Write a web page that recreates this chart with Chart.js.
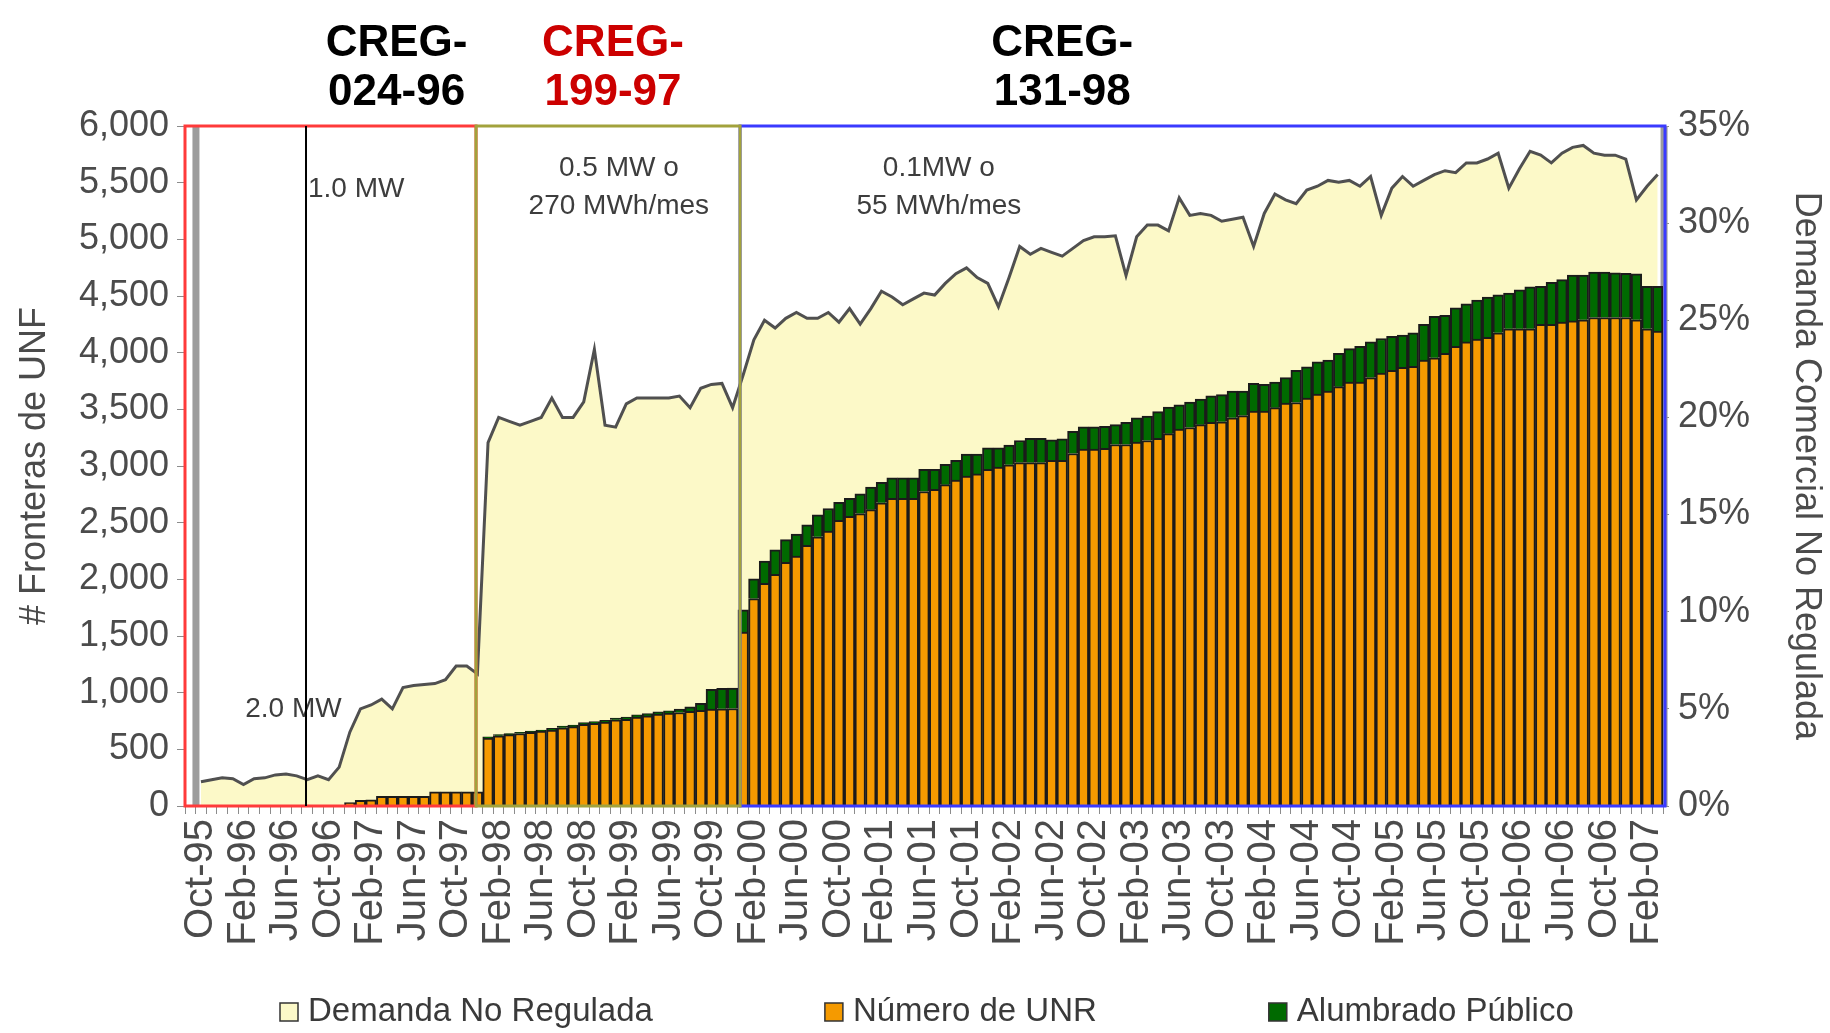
<!DOCTYPE html>
<html>
<head>
<meta charset="utf-8">
<script src="https://cdn.jsdelivr.net/npm/chart.js@4.4.1/dist/chart.umd.min.js"></script>
<style>
  html, body { margin: 0; padding: 0; background: #fff; }
  #wrap { width: 1830px; height: 1033px; }
</style>
</head>
<body>
<div id="wrap"><canvas id="unfChart" width="1830" height="1033"></canvas></div>
<script>
// meses (Sep-95 queda vacio, los datos empiezan en Oct-95)
var meses = [
  'Sep-95','Oct-95','Nov-95','Dec-95',
  'Jan-96','Feb-96','Mar-96','Apr-96','May-96','Jun-96','Jul-96','Aug-96','Sep-96','Oct-96','Nov-96','Dec-96',
  'Jan-97','Feb-97','Mar-97','Apr-97','May-97','Jun-97','Jul-97','Aug-97','Sep-97','Oct-97','Nov-97','Dec-97',
  'Jan-98','Feb-98','Mar-98','Apr-98','May-98','Jun-98','Jul-98','Aug-98','Sep-98','Oct-98','Nov-98','Dec-98',
  'Jan-99','Feb-99','Mar-99','Apr-99','May-99','Jun-99','Jul-99','Aug-99','Sep-99','Oct-99','Nov-99','Dec-99',
  'Jan-00','Feb-00','Mar-00','Apr-00','May-00','Jun-00','Jul-00','Aug-00','Sep-00','Oct-00','Nov-00','Dec-00',
  'Jan-01','Feb-01','Mar-01','Apr-01','May-01','Jun-01','Jul-01','Aug-01','Sep-01','Oct-01','Nov-01','Dec-01',
  'Jan-02','Feb-02','Mar-02','Apr-02','May-02','Jun-02','Jul-02','Aug-02','Sep-02','Oct-02','Nov-02','Dec-02',
  'Jan-03','Feb-03','Mar-03','Apr-03','May-03','Jun-03','Jul-03','Aug-03','Sep-03','Oct-03','Nov-03','Dec-03',
  'Jan-04','Feb-04','Mar-04','Apr-04','May-04','Jun-04','Jul-04','Aug-04','Sep-04','Oct-04','Nov-04','Dec-04',
  'Jan-05','Feb-05','Mar-05','Apr-05','May-05','Jun-05','Jul-05','Aug-05','Sep-05','Oct-05','Nov-05','Dec-05',
  'Jan-06','Feb-06','Mar-06','Apr-06','May-06','Jun-06','Jul-06','Aug-06','Sep-06','Oct-06','Nov-06','Dec-06',
  'Jan-07','Feb-07','Mar-07'
];

// Demanda comercial no regulada (% , eje derecho)
var demanda = [
  null, 1.25, 1.35, 1.45,
  1.4, 1.1, 1.4, 1.45, 1.6, 1.65, 1.55, 1.35, 1.55, 1.35, 2.0, 3.8,
  5.0, 5.2, 5.5, 5.0, 6.1, 6.2, 6.25, 6.3, 6.5, 7.2, 7.2, 6.8,
  18.7, 20.0, 19.8, 19.6, 19.8, 20.0, 21.0, 20.0, 20.0, 20.8, 23.5, 19.6,
  19.5, 20.7, 21.0, 21.0, 21.0, 21.0, 21.1, 20.5, 21.5, 21.7, 21.75, 20.5,
  22.2, 24.0, 25.0, 24.6, 25.1, 25.4, 25.1, 25.1, 25.4, 24.9, 25.6, 24.8,
  25.6, 26.5, 26.2, 25.8, 26.1, 26.4, 26.3, 26.9, 27.4, 27.7, 27.2, 26.9,
  25.7, 27.2, 28.8, 28.4, 28.7, 28.5, 28.3, 28.7, 29.1, 29.3, 29.3, 29.35,
  27.3, 29.3, 29.9, 29.9, 29.6, 31.3, 30.4, 30.5, 30.4, 30.1, 30.2, 30.3,
  28.8, 30.5, 31.5, 31.2, 31.0, 31.7, 31.9, 32.2, 32.1, 32.2, 31.9, 32.4,
  30.4, 31.8, 32.4, 31.9, 32.2, 32.5, 32.7, 32.6, 33.1, 33.1, 33.3, 33.6,
  31.8, 32.8, 33.7, 33.5, 33.1, 33.6, 33.9, 34.0, 33.6, 33.5, 33.5, 33.3,
  31.2, 31.9, 32.5
];

// Numero de UNR (eje izquierdo)
var unr = [
  null, null, null, null,
  null, null, null, null, null, null, null, null, null, null, null, 30,
  50, 55, 85, 85, 85, 85, 85, 125, 125, 125, 125, 125,
  600, 620, 630, 640, 650, 660, 670, 690, 700, 720, 730, 740,
  760, 765, 785, 795, 810, 820, 825, 835, 845, 855, 858, 860,
  1535, 1830, 1965, 2045, 2150, 2205, 2300, 2375, 2425, 2520, 2555, 2580,
  2615, 2675, 2715, 2715, 2715, 2775, 2795, 2835, 2875, 2910, 2930, 2970,
  2990, 3010, 3030, 3030, 3030, 3050, 3050, 3110, 3150, 3150, 3155, 3190,
  3190, 3210, 3225, 3245, 3285, 3325, 3340, 3365, 3385, 3390, 3425, 3445,
  3485, 3485, 3515, 3555, 3560, 3600, 3635, 3660, 3700, 3740, 3740, 3780,
  3820, 3845, 3870, 3880, 3935, 3955, 3995, 4055, 4095, 4120, 4135, 4175,
  4210, 4210, 4210, 4250, 4250, 4270, 4280, 4290, 4310, 4310, 4310, 4310,
  4290, 4210, 4190
];

// Alumbrado publico (apilado sobre UNR)
var alumbrado = [
  null, null, null, null,
  null, null, null, null, null, null, null, null, null, null, null, null,
  null, null, null, null, null, null, null, null, null, null, null, null,
  10, 10, 10, 10, 10, 10, 15, 15, 15, 15, 15, 15,
  15, 20, 20, 20, 20, 20, 30, 40, 60, 175, 180, 180,
  195, 175, 195, 215, 200, 195, 180, 195, 200, 160, 160, 175,
  200, 180, 180, 180, 180, 195, 175, 180, 175, 195, 175, 190,
  170, 175, 195, 215, 215, 180, 190, 195, 195, 195, 195, 175,
  195, 215, 215, 235, 235, 215, 225, 225, 235, 240, 235, 215,
  245, 235, 225, 225, 285, 275, 285, 275, 295, 295, 315, 315,
  305, 300, 285, 295, 315, 365, 335, 340, 335, 345, 355, 335,
  315, 345, 370, 335, 370, 375, 405, 395, 400, 400, 395, 390,
  405, 375, 395
];

// resoluciones CREG sobre el grafico (posicion en indice de mes)
var resoluciones = [
  { linea1: 'CREG-', linea2: '024-96', color: '#000000', mes: 19.4 },
  { linea1: 'CREG-', linea2: '199-97', color: '#cc0000', mes: 39.75 },
  { linea1: 'CREG-', linea2: '131-98', color: '#000000', mes: 82.0 }
];

var fuente = '"Liberation Sans", Arial, sans-serif';
var gris = '#4b4b4b';
Chart.defaults.font.family = fuente;

var marcos = {
  id: 'marcos',
  afterDatasetDraw: function(chart, args) {
    if (args.meta.type !== 'line') return;
    var x = chart.scales.x, a = chart.chartArea, ctx = chart.ctx;
    ctx.save();
    ctx.fillStyle = '#9c9c9c';
    [0.53, 138.6].forEach(function(v) {
      var px = x.getPixelForValue(v);
      ctx.fillRect(px - 3.5, a.top, 7, a.bottom - a.top);
    });
    ctx.restore();
  },
  afterDatasetsDraw: function(chart) {
    var x = chart.scales.x, y = chart.scales.y, a = chart.chartArea, ctx = chart.ctx;
    var b1 = x.getPixelForValue(26.87), b2 = x.getPixelForValue(51.7);
    var R = a.right + 2;
    ctx.save();
    ctx.lineWidth = 3;
    ctx.strokeStyle = '#3a3aff';
    ctx.strokeRect(b2, a.top, R - b2, a.bottom - a.top);
    ctx.strokeStyle = '#ff3a3a';
    ctx.strokeRect(a.left, a.top, b1 - a.left, a.bottom - a.top);
    ctx.strokeStyle = '#a2a23c';
    ctx.strokeRect(b1, a.top, b2 - b1, a.bottom - a.top);

    ctx.font = '28px ' + fuente;
    ctx.fillStyle = '#3d3d3d';
    ctx.textBaseline = 'middle';
    ctx.textAlign = 'left';
    var lx = x.getPixelForValue(10.88);
    ctx.fillText('1.0 MW', lx + 2, y.getPixelForValue(5444));
    ctx.textAlign = 'center';
    ctx.fillText('2.0 MW', x.getPixelForValue(9.7), y.getPixelForValue(856));
    ctx.fillText('0.5 MW o', x.getPixelForValue(40.3), y.getPixelForValue(5629));
    ctx.fillText('270 MWh/mes', x.getPixelForValue(40.3), y.getPixelForValue(5294));
    ctx.fillText('0.1MW o', x.getPixelForValue(70.4), y.getPixelForValue(5629));
    ctx.fillText('55 MWh/mes', x.getPixelForValue(70.4), y.getPixelForValue(5294));

    ctx.strokeStyle = '#000';
    ctx.lineWidth = 2;
    ctx.beginPath();
    ctx.moveTo(lx, a.top);
    ctx.lineTo(lx, a.bottom);
    ctx.stroke();
    ctx.restore();
  },
  afterDraw: function(chart) {
    var x = chart.scales.x, a = chart.chartArea, ctx = chart.ctx;
    ctx.save();
    ctx.font = 'bold 44px ' + fuente;
    ctx.textAlign = 'center';
    ctx.textBaseline = 'middle';
    resoluciones.forEach(function(r) {
      var px = x.getPixelForValue(r.mes);
      ctx.fillStyle = r.color;
      ctx.fillText(r.linea1, px, a.top - 82);
      ctx.fillText(r.linea2, px, a.top - 33);
    });

    // leyenda
    var lx = 280, ly = 1012;
    ctx.font = '33px ' + fuente;
    ctx.textAlign = 'left';
    chart.data.datasets.forEach(function(ds) {
      ctx.fillStyle = ds.backgroundColor;
      ctx.fillRect(lx, ly - 9, 18, 18);
      ctx.strokeStyle = '#333';
      ctx.lineWidth = 1.5;
      ctx.strokeRect(lx, ly - 9, 18, 18);
      ctx.fillStyle = '#3a3a3a';
      ctx.fillText(ds.label, lx + 28, ly);
      lx += 28 + ctx.measureText(ds.label).width + 172;
    });
    ctx.restore();
  }
};

var ctx = document.getElementById('unfChart').getContext('2d');
var myChart = new Chart(ctx, {
  type: 'bar',
  data: {
    labels: meses,
    datasets: [{
      type: 'line',
      label: 'Demanda No Regulada',
      data: demanda,
      yAxisID: 'y1',
      borderColor: '#505050',
      borderWidth: 3,
      backgroundColor: '#fcf9c8',
      fill: 'origin',
      pointRadius: 0,
      tension: 0,
      order: 2
    }, {
      label: 'Número de UNR',
      data: unr,
      yAxisID: 'y',
      stack: 'unf',
      backgroundColor: '#f59a00',
      borderColor: '#1b1b1b',
      borderWidth: 2,
      barPercentage: 1,
      categoryPercentage: 1,
      order: 1
    }, {
      label: 'Alumbrado Público',
      data: alumbrado,
      yAxisID: 'y',
      stack: 'unf',
      backgroundColor: '#006a00',
      borderColor: '#1b1b1b',
      borderWidth: 2,
      barPercentage: 1,
      categoryPercentage: 1,
      order: 1
    }]
  },
  options: {
    responsive: false,
    animation: false,
    devicePixelRatio: 1,
    layout: { padding: { top: 126, bottom: 67, left: 0, right: 0 } },
    plugins: {
      legend: { display: false },
      tooltip: { enabled: false }
    },
    scales: {
      x: {
        stacked: true,
        offset: true,
        border: { display: false },
        grid: { display: true, drawOnChartArea: false, tickLength: 8, color: '#8c8c8c', offset: true },
        ticks: {
          autoSkip: false,
          maxRotation: 90,
          minRotation: 90,
          padding: 5,
          color: gris,
          font: { size: 40 },
          callback: function(v, i) { return (i - 1) % 4 === 0 ? meses[i] : ''; }
        },
        afterFit: function(s) { s.height = 160; }
      },
      y: {
        position: 'left',
        stacked: true,
        min: 0,
        max: 6000,
        border: { display: false },
        grid: { drawOnChartArea: false, tickLength: 8, color: '#8c8c8c' },
        ticks: {
          stepSize: 500,
          padding: 8,
          color: gris,
          font: { size: 36 },
          callback: function(v) { return v.toLocaleString('en-US'); }
        },
        title: { display: true, text: '# Fronteras de UNF', color: gris, font: { size: 36 }, padding: { top: 13, bottom: 0 } },
        afterFit: function(s) { s.width = 185; }
      },
      y1: {
        position: 'right',
        stacked: false,
        min: 0,
        max: 35,
        border: { display: false },
        grid: { drawOnChartArea: false, tickLength: 6, color: '#8c8c8c' },
        ticks: {
          stepSize: 5,
          padding: 9,
          color: gris,
          font: { size: 36 },
          callback: function(v) { return v + '%'; }
        },
        title: { display: true, text: 'Demanda Comercial No Regulada', color: gris, font: { size: 36 }, padding: { top: 2, bottom: 0 } },
        afterFit: function(s) { s.width = 167; }
      }
    }
  },
  plugins: [marcos]
});
</script>
</body>
</html>
